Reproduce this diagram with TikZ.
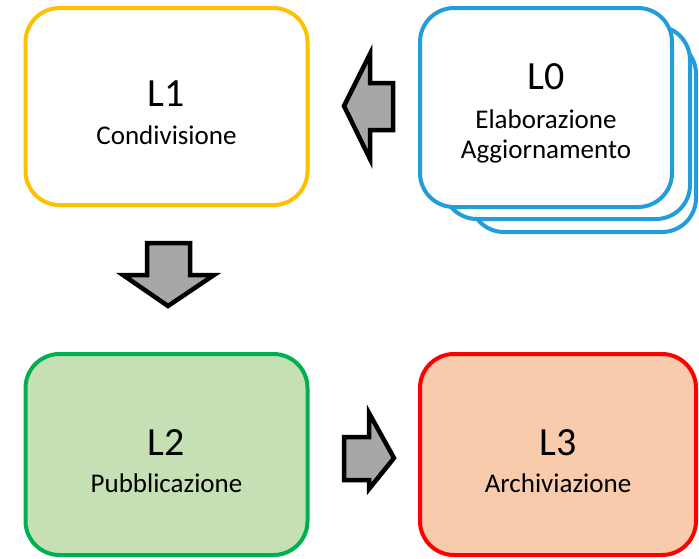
\documentclass[tikz,border=0pt]{standalone}
\usepackage{fontspec}
\setmainfont{Carlito}
\definecolor{lvlzero}{HTML}{229CDA}
\definecolor{lvlone}{HTML}{FFC000}
\definecolor{lvltwo}{HTML}{00B050}
\definecolor{lvltwofill}{HTML}{C5E0B4}
\definecolor{lvlthree}{HTML}{FF0000}
\definecolor{lvlthreefill}{HTML}{F8CBAD}
\definecolor{blockgray}{HTML}{A9A6A6}
\tikzset{
  levelbox/.style={rounded corners=34pt, line width=4pt, minimum width=281pt,
    minimum height=196pt, inner sep=0pt, fill=white},
  titletxt/.style={anchor=base, inner sep=0pt, font=\fontsize{40}{44}\selectfont},
  subtxt/.style={anchor=base, inner sep=0pt, font=\fontsize{27}{31}\selectfont},
  blockarrow/.style={draw=black, fill=blockgray, line width=4.5pt, line join=miter, miter limit=10},
}
\begin{document}
\begin{tikzpicture}[x=1pt,y=-1pt]
  \useasboundingbox (0,0) rectangle (699,558);

  % L0: stack of three cards
  \node[levelbox, draw=lvlzero, minimum width=226pt, minimum height=192pt] (l0c) at (583,136) {};
  \node[levelbox, draw=lvlzero, minimum width=247pt, minimum height=193pt] (l0b) at (566.5,122.5) {};
  \node[levelbox, draw=lvlzero, minimum width=252pt, minimum height=199pt] (l0) at (546,107.5) {};
  \node[titletxt] (l0t) at (546,89) {L0};
  \node[subtxt] (l0s) at (546,128) {Elaborazione};
  \node[subtxt] (l0u) at (546,158) {Aggiornamento};

  % L1
  \node[levelbox, draw=lvlone, minimum width=282pt, minimum height=197pt] (l1) at (166.5,106.5) {};
  \node[titletxt] (l1t) at (166.5,106.5) {L1};
  \node[subtxt] (l1s) at (166.5,144) {Condivisione};

  % L2
  \node[levelbox, draw=lvltwo, fill=lvltwofill, minimum width=282pt, minimum height=201pt] (l2) at (166.5,454.5) {};
  \node[titletxt] (l2t) at (166.5,455) {L2};
  \node[subtxt] (l2s) at (166.5,492) {Pubblicazione};

  % L3
  \node[levelbox, draw=lvlthree, fill=lvlthreefill, minimum width=276pt, minimum height=201pt] (l3) at (558,454.5) {};
  \node[titletxt] (l3t) at (558,455) {L3};
  \node[subtxt] (l3s) at (558,492) {Archiviazione};

  % block arrows between the levels
  \draw[blockarrow] (393,83) -- (370,83) -- (370,54) -- (344,106) -- (370,159) -- (370,130) -- (393,130) -- cycle;
  \draw[blockarrow] (147,243) -- (190,243) -- (190,275) -- (214,275) -- (168,306) -- (123,275) -- (147,275) -- cycle;
  \draw[blockarrow] (344,437) -- (369,437) -- (369,413) -- (394,458) -- (369,489) -- (369,480) -- (344,480) -- cycle;
\end{tikzpicture}
\end{document}
